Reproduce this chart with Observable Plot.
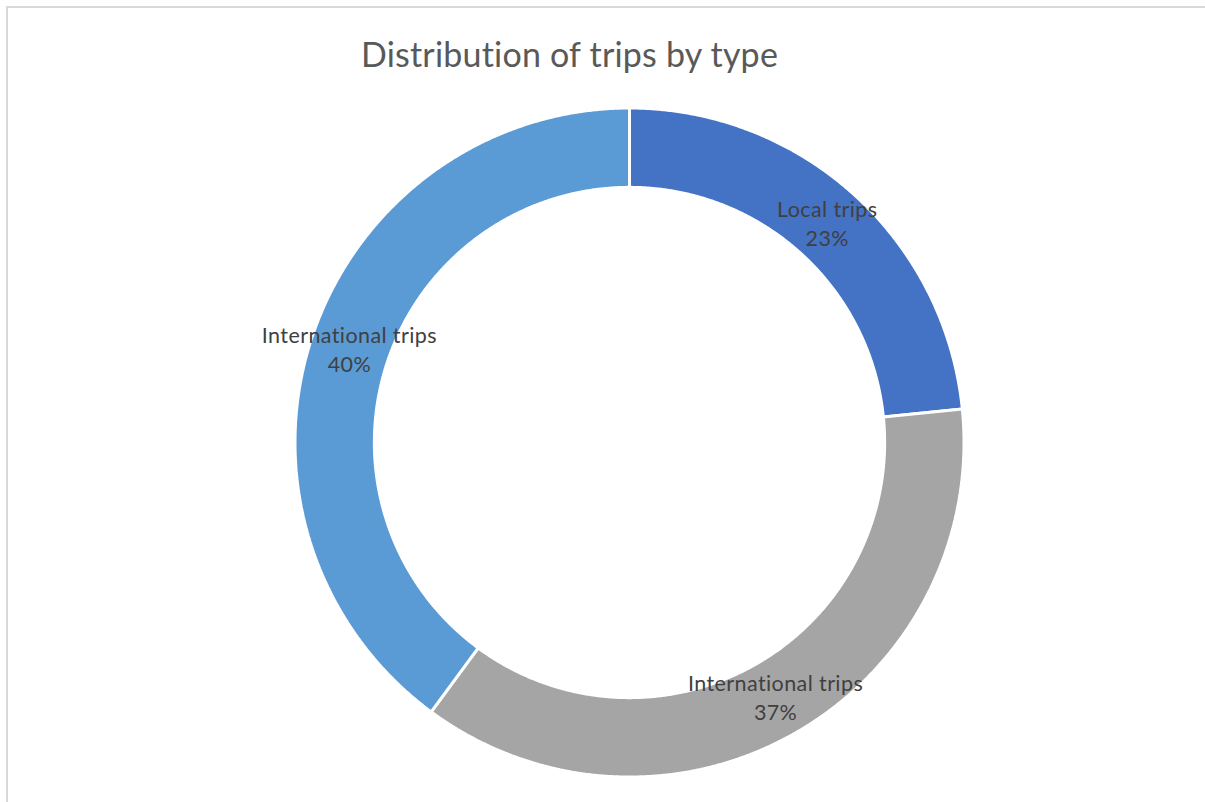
<!DOCTYPE html>
<html>
<head>
<meta charset="utf-8">
<script src="https://cdn.jsdelivr.net/npm/d3@7"></script>
<script src="https://cdn.jsdelivr.net/npm/@observablehq/plot@0.6"></script>
<style>
  html, body { margin: 0; padding: 0; background: #fff; }
  #wrap { position: relative; width: 1205px; height: 802px; overflow: hidden; }
  #frame { position: absolute; left: 6px; top: 6px; width: 1300px; height: 900px;
           border-left: 2px solid #d9d9d9; border-top: 2px solid #d9d9d9; pointer-events: none; }
  #wrap svg { position: absolute; left: 0; top: 0; }
</style>
</head>
<body>
<div id="wrap"><div id="frame"></div></div>
<script>
// ---- data ----
const title = "Distribution of trips by type";
const categories = ["Local trips", "International trips", "International trips"];
const values = [23.4, 36.7, 39.9];
const colors = ["#4472C4", "#A5A5A5", "#5B9BD5"];

// ---- build tables ----
const rows = categories.map((c, i) => ({id: i, category: c, value: values[i], color: colors[i]}));
const total = d3.sum(values);
const innerRatio = 254 / 333;
const arcs = d3.pie().sort(null).value(d => d.value)(rows);

const ring = [];
for (const a of arcs) {
  const n = Math.max(8, Math.ceil((a.endAngle - a.startAngle) / 0.005));
  const pts = [];
  for (let k = 0; k <= n; k++) {
    const t = a.startAngle + (a.endAngle - a.startAngle) * k / n;
    pts.push({id: a.data.id, color: a.data.color, x: Math.sin(t), y: Math.cos(t)});
  }
  for (let k = n; k >= 0; k--) {
    const t = a.startAngle + (a.endAngle - a.startAngle) * k / n;
    pts.push({id: a.data.id, color: a.data.color, x: innerRatio * Math.sin(t), y: innerRatio * Math.cos(t)});
  }
  pts.push({...pts[0]});
  ring.push(...pts);
}

const labels = arcs.map(a => {
  const m = (a.startAngle + a.endAngle) / 2;
  const r = (1 + innerRatio) / 2;
  return {
    x: r * Math.sin(m), y: r * Math.cos(m),
    text: `${a.data.category}\n${Math.round(a.data.value / total * 100)}%`
  };
});

const cx = 629, cy = 442, R = 334.5;
const chart = Plot.plot({
  width: 1205,
  height: 802,
  margin: 0,
  style: {background: "transparent"},
  x: {domain: [-1, 1], range: [cx - R, cx + R], axis: null},
  y: {domain: [-1, 1], range: [cy + R, cy - R], axis: null},
  color: {type: "identity"},
  marks: [
    Plot.line(ring, {x: "x", y: "y", z: "id", fill: "color", stroke: "#ffffff", strokeWidth: 3, strokeLinejoin: "miter", curve: "linear"}),
    Plot.text(labels, {x: "x", y: "y", text: "text", fontSize: 21.5, lineHeight: 1.35,
      fill: "#404040", fontFamily: "Lato, 'Open Sans', sans-serif", textAnchor: "middle", lineAnchor: "middle", dy: -2}),
    Plot.text([title], {frameAnchor: "top-left", dx: 569, dy: 56, textAnchor: "middle", lineAnchor: "middle",
      fontSize: 34, fill: "#595959", fontFamily: "Lato, 'Open Sans', sans-serif"})
  ]
});
const textGroups = d3.select(chart).selectAll('g[aria-label="text"]').nodes();
if (textGroups[0]) textGroups[0].style.letterSpacing = "0.4px";
if (textGroups[1]) textGroups[1].style.letterSpacing = "0.2px";
document.getElementById("wrap").appendChild(chart);
</script>
</body>
</html>
